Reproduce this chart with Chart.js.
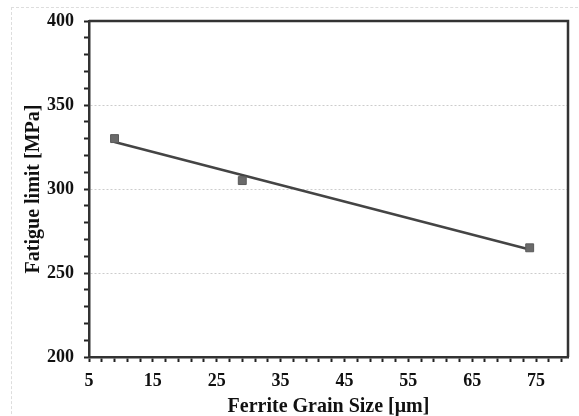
<!DOCTYPE html>
<html>
<head>
<meta charset="utf-8">
<script src="https://cdn.jsdelivr.net/npm/chart.js@4.4.0/dist/chart.umd.min.js"></script>
<style>
  html, body { margin: 0; padding: 0; background: #fff; }
  .wrap { position: relative; width: 579px; height: 416px; }
  .frame { position: absolute; left: 11px; top: 7px; width: 600px; height: 450px; border: 1px dashed #ddd; }
  canvas { position: absolute; left: 0; top: 0; }
</style>
</head>
<body>
<div class="wrap">
  <div class="frame"></div>
  <canvas id="chart" width="579" height="416"></canvas>
</div>
<script>
// measured points
const grainSize = [9, 29, 74];
const fatigueLimit = [330, 305, 265];

// linear trend line end points
const trendX = [9, 74];
const trendY = [328, 264];

const xMajorTicks = [5, 15, 25, 35, 45, 55, 65, 75];
const yMajorTicks = [200, 250, 300, 350, 400];
const xMinorStep = 2;
const yMinorStep = 10;

const fontFamily = '"Liberation Serif", "Times New Roman", serif';

const framePlugin = {
  id: 'frame',
  afterDraw(chart) {
    const {ctx, chartArea} = chart;
    ctx.save();
    ctx.strokeStyle = '#333';
    ctx.lineWidth = 2.5;
    ctx.beginPath();
    ctx.moveTo(chartArea.left, chartArea.top);
    ctx.lineTo(chartArea.right, chartArea.top);
    ctx.lineTo(chartArea.right, chartArea.bottom);
    ctx.stroke();
    ctx.restore();
  }
};

const ctx = document.getElementById('chart').getContext('2d');
new Chart(ctx, {
  type: 'scatter',
  data: {
    datasets: [
      {
        label: 'Measured',
        data: grainSize.map((x, i) => ({x: x, y: fatigueLimit[i]})),
        pointStyle: 'rect',
        pointRadius: 5.6,
        backgroundColor: '#6a6a6a',
        borderColor: '#5a5a5a',
        borderWidth: 1,
        order: 0,
      },
      {
        label: 'Trend',
        type: 'line',
        data: trendX.map((x, i) => ({x: x, y: trendY[i]})),
        borderColor: '#444',
        borderWidth: 2.5,
        pointRadius: 0,
        fill: false,
        order: 1,
      },
    ],
  },
  options: {
    responsive: false,
    animation: false,
    layout: { padding: { left: 0, top: 21, right: 11, bottom: 0 } },
    plugins: {
      legend: { display: false },
      tooltip: { enabled: false },
    },
    scales: {
      x: {
        type: 'linear',
        min: 5,
        max: 80,
        afterBuildTicks: (scale) => {
          const ticks = [];
          for (let v = xMajorTicks[0]; v <= scale.max; v += xMinorStep) ticks.push({value: v});
          scale.ticks = ticks;
        },
        afterFit: (scale) => { scale.height = 59; },
        ticks: {
          autoSkip: false,
          maxRotation: 0,
          padding: 9,
          color: '#111',
          font: { family: fontFamily, size: 18, weight: 'bold' },
          callback: (v) => xMajorTicks.includes(v) ? String(v) : '',
        },
        grid: {
          drawOnChartArea: false,
          drawTicks: true,
          tickLength: 5,
          tickColor: '#222',
          tickWidth: 2,
        },
        border: { color: '#333', width: 2.5 },
        title: {
          display: true,
          text: 'Ferrite Grain Size [μm]',
          color: '#111',
          font: { family: fontFamily, size: 20, weight: 'bold' },
          padding: { top: 0, bottom: -3 },
        },
      },
      y: {
        type: 'linear',
        min: 200,
        max: 400,
        afterBuildTicks: (scale) => {
          const ticks = [];
          for (let v = scale.min; v <= scale.max; v += yMinorStep) ticks.push({value: v});
          scale.ticks = ticks;
        },
        afterFit: (scale) => { scale.width = 89; },
        ticks: {
          autoSkip: false,
          padding: 10,
          color: '#111',
          font: { family: fontFamily, size: 18, weight: 'bold' },
          callback: (v) => yMajorTicks.includes(v) ? String(v) : '',
        },
        grid: {
          drawOnChartArea: true,
          drawTicks: true,
          tickLength: 5,
          tickColor: '#222',
          tickWidth: 2,
          lineWidth: 1,
          color: (c) => {
            const v = c.tick && c.tick.value;
            return (v === 250 || v === 300 || v === 350) ? '#ccc' : 'transparent';
          },
        },
        border: { color: '#333', width: 2.5, dash: [2, 2] },
        title: {
          display: true,
          text: 'Fatigue limit [MPa]',
          color: '#111',
          font: { family: fontFamily, size: 20, weight: 'bold' },
          padding: { top: 22, bottom: 0 },
        },
      },
    },
  },
  plugins: [framePlugin],
});
</script>
</body>
</html>
